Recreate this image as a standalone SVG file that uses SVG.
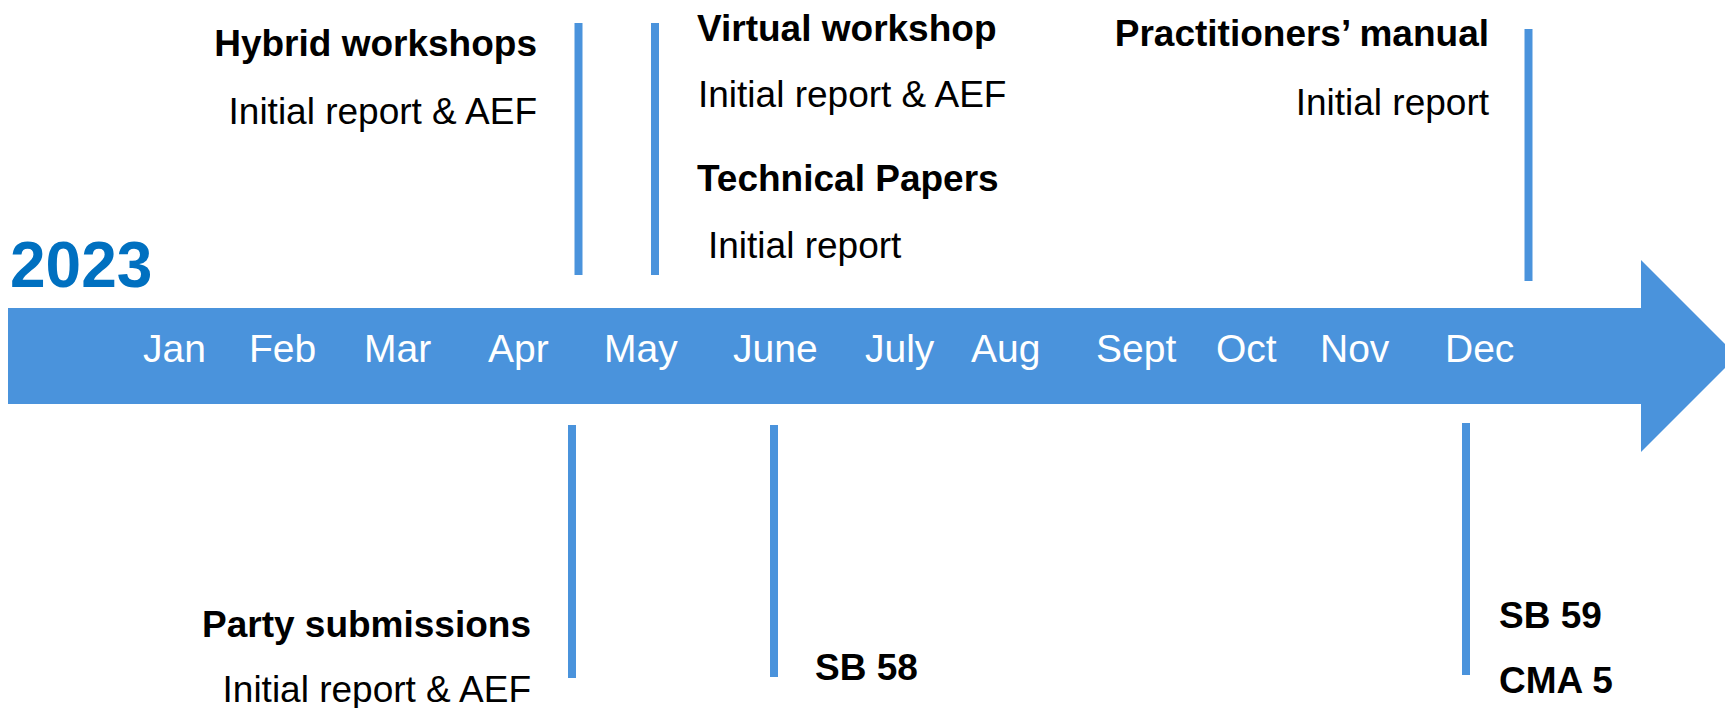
<svg xmlns="http://www.w3.org/2000/svg" width="1725" height="708" viewBox="0 0 1725 708">
<style>
  .bar { fill: #4A93DC; }
  .tick { stroke: #4A93DC; stroke-width: 8; fill: none; }
  .month { font-family: "Liberation Sans", Arial, sans-serif; font-size: 39px; fill: #ffffff; }
  .head { font-family: "Liberation Sans", Arial, sans-serif; font-size: 37px; font-weight: bold; fill: #000000; }
  .sub { font-family: "Liberation Sans", Arial, sans-serif; font-size: 37px; fill: #000000; }
  .year { font-family: "Liberation Sans", Arial, sans-serif; font-size: 64px; font-weight: bold; fill: #0070C0; }
</style>
<rect width="1725" height="708" fill="#ffffff"/>

<g id="timeline-arrow">
  <polygon class="bar" points="8,308 1641,308 1641,260 1737,356 1641,452 1641,404 8,404"/>
  <text class="year" x="10" y="287">2023</text>
  <text class="month" x="143" y="362">Jan</text>
  <text class="month" x="249" y="362">Feb</text>
  <text class="month" x="364" y="362">Mar</text>
  <text class="month" x="488" y="362">Apr</text>
  <text class="month" x="604" y="362">May</text>
  <text class="month" x="733" y="362">June</text>
  <text class="month" x="865" y="362">July</text>
  <text class="month" x="971" y="362">Aug</text>
  <text class="month" x="1096" y="362">Sept</text>
  <text class="month" x="1216" y="362">Oct</text>
  <text class="month" x="1320" y="362">Nov</text>
  <text class="month" x="1445" y="362">Dec</text>
</g>

<g id="connectors">
  <line class="tick" x1="578.5" y1="23" x2="578.5" y2="275"/>
  <line class="tick" x1="655" y1="23" x2="655" y2="275"/>
  <line class="tick" x1="1528.5" y1="29" x2="1528.5" y2="281"/>
  <line class="tick" x1="572" y1="425" x2="572" y2="678"/>
  <line class="tick" x1="774" y1="425" x2="774" y2="677"/>
  <line class="tick" x1="1466" y1="423" x2="1466" y2="675"/>
</g>

<g id="hybrid-workshops">
  <text class="head" x="537" y="56" text-anchor="end">Hybrid workshops</text>
  <text class="sub" x="537" y="124" text-anchor="end">Initial report &amp; AEF</text>
</g>

<g id="virtual-workshop">
  <text class="head" x="697" y="41">Virtual workshop</text>
  <text class="sub" x="698" y="107">Initial report &amp; AEF</text>
</g>

<g id="technical-papers">
  <text class="head" x="697" y="191">Technical Papers</text>
  <text class="sub" x="708" y="258">Initial report</text>
</g>

<g id="practitioners-manual">
  <text class="head" x="1489" y="46" text-anchor="end">Practitioners’ manual</text>
  <text class="sub" x="1489" y="115" text-anchor="end">Initial report</text>
</g>

<g id="party-submissions">
  <text class="head" x="531" y="637" text-anchor="end">Party submissions</text>
  <text class="sub" x="531" y="702" text-anchor="end">Initial report &amp; AEF</text>
</g>

<g id="sb58">
  <text class="head" x="815" y="680">SB 58</text>
</g>

<g id="sb59-cma5">
  <text class="head" x="1499" y="628">SB 59</text>
  <text class="head" x="1499" y="693">CMA 5</text>
</g>
</svg>
